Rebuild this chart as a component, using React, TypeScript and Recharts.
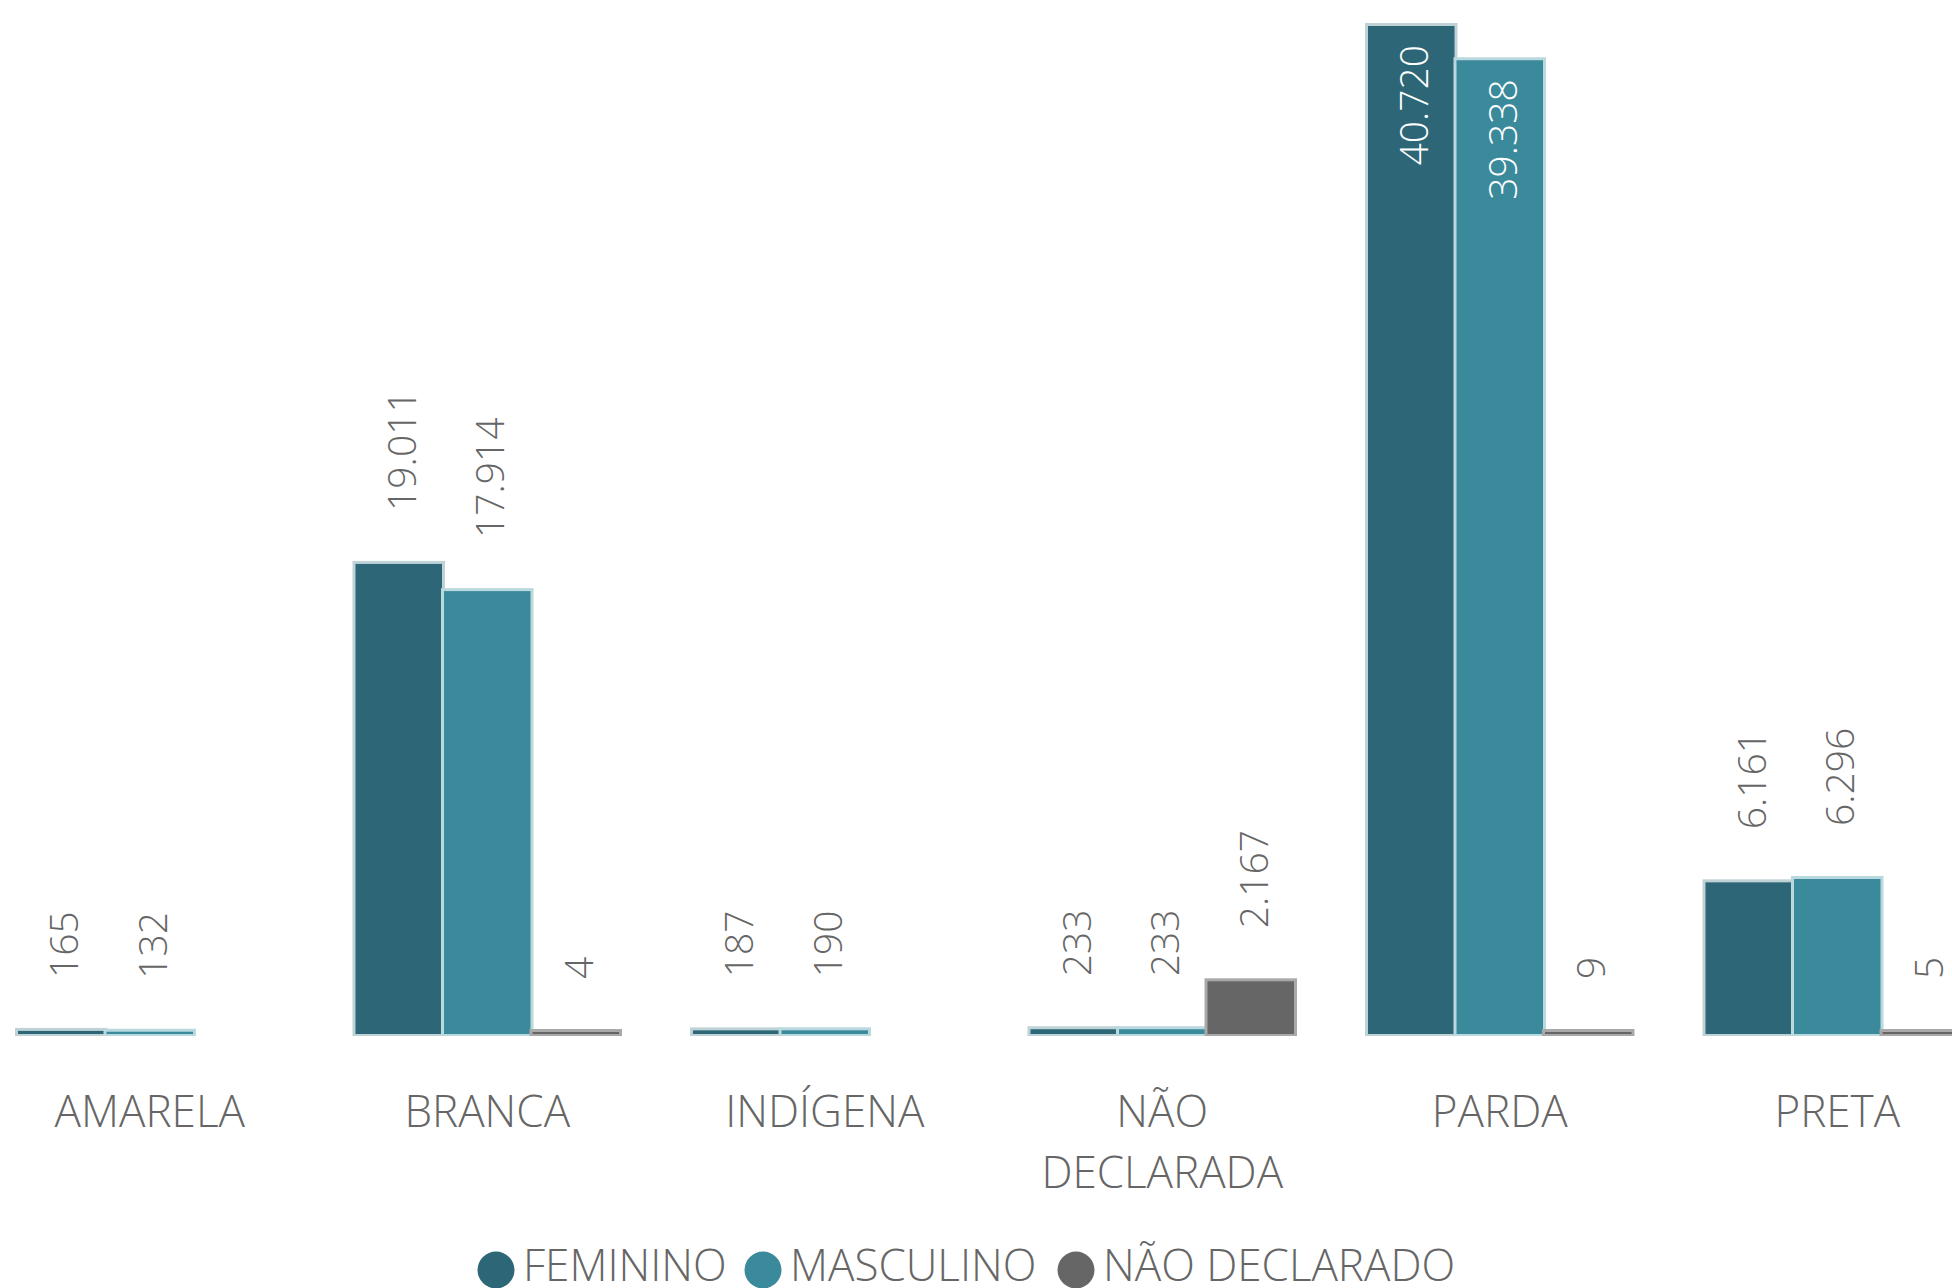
import React from 'react';
import { BarChart, Bar, XAxis, YAxis, LabelList, Legend } from 'recharts';

const categories = ['AMARELA', 'BRANCA', 'INDÍGENA', 'NÃO DECLARADA', 'PARDA', 'PRETA'];
const feminino = [165, 19011, 187, 233, 40720, 6161];
const masculino = [132, 17914, 190, 233, 39338, 6296];
const naoDeclarado: (number | null)[] = [null, 4, null, 2167, 9, 5];

const seriesNames = ['FEMININO', 'MASCULINO', 'NÃO DECLARADO'];
const seriesColors = ['#2D6777', '#3B8A9C', '#666666'];
const haloColors = ['#bfd3d7', '#b9d9df', '#a9a9a9'];

const data = categories.map((c, i) => ({
  cat: c,
  fem: feminino[i],
  masc: masculino[i],
  nd: naoDeclarado[i],
}));

const FONT = "'Segoe UI', 'Open Sans', sans-serif";
const LABEL_FS = 39;
const TICK_FS = 44;
const LEGEND_FS = 44;
const TEXT_WEIGHT = 300;
const TEXT_COLOR = '#666666';

const fmt = (v: number) => String(v).replace(/\B(?=(\d{3})+(?!\d))/g, '.');

const makeShape = (idx: number) => (props: any) => {
  const { x, y, width, height } = props;
  if (height == null || width == null || height <= 0) return <g />;
  return (
    <g>
      <rect x={x - 2} y={y - 2} width={width + 4} height={height + 4} fill={haloColors[idx]} />
      <rect x={x + 1} y={y + 1} width={width - 2} height={Math.max(height - 1, 1)} fill={seriesColors[idx]} />
    </g>
  );
};

const makeLabel = () => (props: any) => {
  const { x, y, width, value } = props;
  if (value == null) return null;
  const text = fmt(Number(value));
  const cx = x + width / 2 + 3;
  const textLen = text.length * 0.55 * LABEL_FS;
  const inside = y - 52 - textLen < 0;
  const ay = inside ? y + 20 : y - 52;
  return (
    <text
      x={cx}
      y={ay}
      transform={`rotate(-90 ${cx} ${ay})`}
      textAnchor={inside ? 'end' : 'start'}
      dy={0.36 * LABEL_FS}
      fontSize={LABEL_FS}
      fontFamily={FONT}
      fontWeight={300}
      fill={inside ? '#ffffff' : '#666666'}
    >
      {text}
    </text>
  );
};

const CategoryTick = (props: any) => {
  const { x, y, payload } = props;
  const label: string = payload.value;
  const lines = label.length > 10 ? label.split(' ') : [label];
  return (
    <text x={x} y={y + 93} textAnchor="middle" fontSize={TICK_FS} fontFamily={FONT} fontWeight={TEXT_WEIGHT} fill={TEXT_COLOR}>
      {lines.map((l, i) => (
        <tspan key={i} x={x} dy={i === 0 ? 0 : 61}>
          {l}
        </tspan>
      ))}
    </text>
  );
};

const legendX = [496, 763, 1076];

const LegendContent = () => (
  <svg width={2025} height={60} style={{ display: 'block', overflow: 'visible' }}>
    {seriesNames.map((n, i) => (
      <g key={n}>
        <circle cx={legendX[i] + 19} cy={30} r={18.5} fill={seriesColors[i]} />
        <text x={legendX[i] + 19 + 27} y={41} fontSize={LEGEND_FS} fontFamily={FONT} fontWeight={TEXT_WEIGHT} fill={TEXT_COLOR}>
          {n}
        </text>
      </g>
    ))}
  </svg>
);

export default function App() {
  return (
    <div style={{ position: 'fixed', left: 0, top: 0, width: 1952, height: 1288, overflow: 'hidden', background: '#fff' }}>
      <div style={{ position: 'absolute', left: -19, top: 0 }}>
        <BarChart
          width={2025}
          height={1288}
          data={data}
          margin={{ top: 25, right: 0, bottom: 0, left: 0 }}
          barGap={0}
          barSize={88.5}
        >
          <XAxis
            dataKey="cat"
            axisLine={false}
            tickLine={false}
            tickSize={0}
            tickMargin={0}
            height={254}
            interval={0}
            tick={<CategoryTick />}
          />
          <YAxis hide domain={[0, 'dataMax']} />
          <Legend
            verticalAlign="middle"
            align="center"
            layout="horizontal"
            content={<LegendContent />}
            wrapperStyle={{ left: 0, top: 1240, width: 2025, height: 60 }}
          />
          <Bar dataKey="fem" name={seriesNames[0]} fill={seriesColors[0]} isAnimationActive={false} shape={makeShape(0)} minPointSize={(v: any) => (v == null ? 0 : 3)}>
            <LabelList dataKey="fem" content={makeLabel()} />
          </Bar>
          <Bar dataKey="masc" name={seriesNames[1]} fill={seriesColors[1]} isAnimationActive={false} shape={makeShape(1)} minPointSize={(v: any) => (v == null ? 0 : 3)}>
            <LabelList dataKey="masc" content={makeLabel()} />
          </Bar>
          <Bar dataKey="nd" name={seriesNames[2]} fill={seriesColors[2]} isAnimationActive={false} shape={makeShape(2)} minPointSize={(v: any) => (v == null ? 0 : 3)}>
            <LabelList dataKey="nd" content={makeLabel()} />
          </Bar>
        </BarChart>
      </div>
    </div>
  );
}
